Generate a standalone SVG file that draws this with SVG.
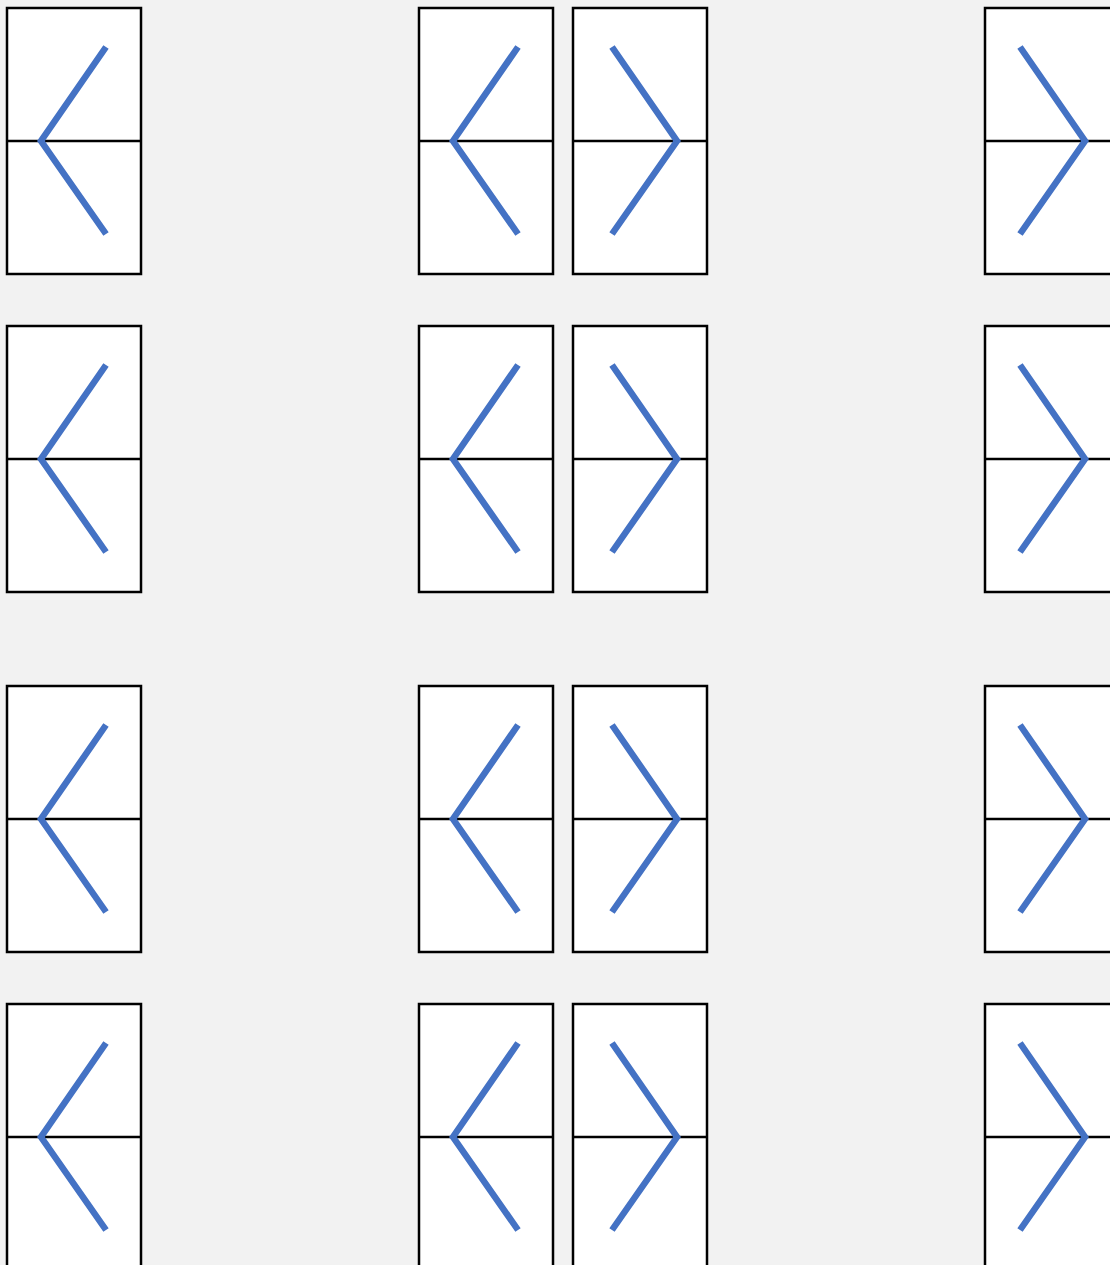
<svg xmlns="http://www.w3.org/2000/svg" width="1110" height="1265" viewBox="0 0 1110 1265">
<style>
.box{fill:#fff;stroke:#000;stroke-width:2.5}
.mid{stroke:#000;stroke-width:2.5}
.chev{fill:none;stroke:#4472C4;stroke-width:6.5;stroke-linecap:butt;stroke-linejoin:miter}
</style>
<defs>
<g id="cellL">
<rect class="box" x="0" y="0" width="134" height="266"/>
<line class="mid" x1="0" y1="133" x2="134" y2="133"/>
<polyline class="chev" points="99,39 34,133 99,226"/>
</g>
<g id="cellR">
<rect class="box" x="0" y="0" width="134" height="266"/>
<line class="mid" x1="0" y1="133" x2="134" y2="133"/>
<polyline class="chev" points="39,39 104,133 39,226"/>
</g>
<g id="cellR2">
<rect class="box" x="0" y="0" width="134" height="266"/>
<line class="mid" x1="0" y1="133" x2="134" y2="133"/>
<polyline class="chev" points="35,39 100,133 35,226"/>
</g>
</defs>
<rect x="0" y="0" width="1110" height="1265" fill="#f2f2f2"/>
<g id="r1c1"><use href="#cellL" x="7" y="8"/></g>
<g id="r1c2"><use href="#cellL" x="419" y="8"/></g>
<g id="r1c3"><use href="#cellR" x="573" y="8"/></g>
<g id="r1c4"><use href="#cellR2" x="985" y="8"/></g>
<g id="r2c1"><use href="#cellL" x="7" y="326"/></g>
<g id="r2c2"><use href="#cellL" x="419" y="326"/></g>
<g id="r2c3"><use href="#cellR" x="573" y="326"/></g>
<g id="r2c4"><use href="#cellR2" x="985" y="326"/></g>
<g id="r3c1"><use href="#cellL" x="7" y="686"/></g>
<g id="r3c2"><use href="#cellL" x="419" y="686"/></g>
<g id="r3c3"><use href="#cellR" x="573" y="686"/></g>
<g id="r3c4"><use href="#cellR2" x="985" y="686"/></g>
<g id="r4c1"><use href="#cellL" x="7" y="1004"/></g>
<g id="r4c2"><use href="#cellL" x="419" y="1004"/></g>
<g id="r4c3"><use href="#cellR" x="573" y="1004"/></g>
<g id="r4c4"><use href="#cellR2" x="985" y="1004"/></g>
<g id="connectors"></g>
</svg>
